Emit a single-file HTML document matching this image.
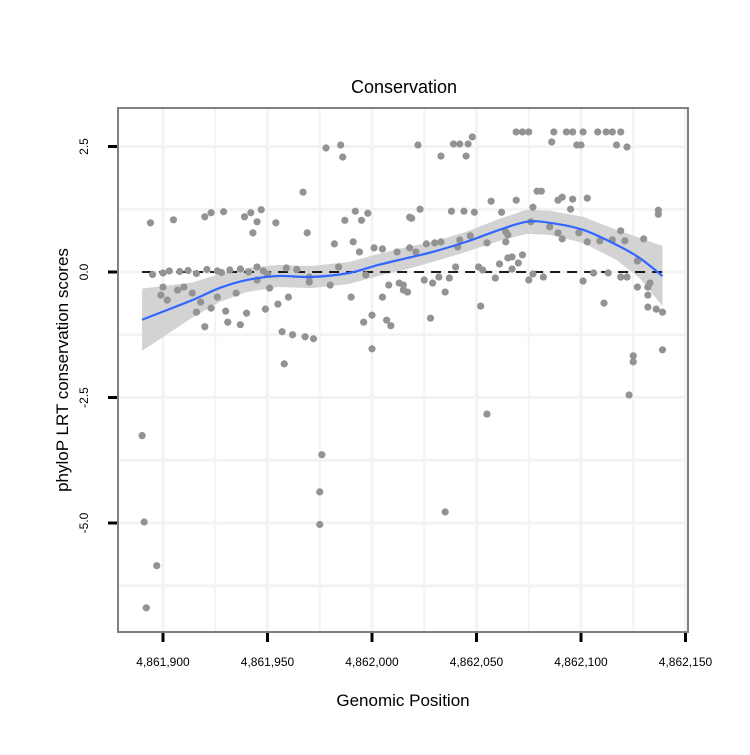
<!DOCTYPE html>
<html><head><meta charset="utf-8"><style>
body{margin:0;background:#fff;font-family:"Liberation Sans",sans-serif}
</style></head><body>
<svg id="chart" width="750" height="750" xmlns="http://www.w3.org/2000/svg" style="font-family:'Liberation Sans',sans-serif">
<text x="404" y="93" font-size="18" text-anchor="middle">Conservation</text>
<g id="grid"></g>
<g id="band"></g>
<line id="zero" stroke="#000" stroke-width="1.8" stroke-dasharray="10,7"/>
<g id="pts"></g>
<g id="fit"></g>
<rect x="118" y="108" width="570" height="524" fill="none" stroke="#808080" stroke-width="2"/>
<g id="axes"></g>
<text x="403" y="706" font-size="17" text-anchor="middle">Genomic Position</text>
<text transform="translate(68,370) rotate(-90)" font-size="17" text-anchor="middle">phyloP LRT conservation scores</text>
</svg>
<script>
const xTicks=[4861900,4861950,4862000,4862050,4862100,4862150];
const xTickLabels=["4,861,900","4,861,950","4,862,000","4,862,050","4,862,100","4,862,150"];
const yTicks=[2.5,0,-2.5,-5];
const yTickLabels=["2.5","0.0","-2.5","-5.0"];
const ptX=[4861894,4861905,4861920,4861923,4861929,4861939,4861942,4861947,4861945,4861943,4861954,4861967,4861978,4861985,4861986,4861992,4861998,4861987,4861995,4861969,4861982,4861991,4861994,4862001,4862005,4862012,4862018,
4861895,4861900,4861903,4861908,4861912,4861916,4861921,4861926,4861928,4861932,4861937,4861941,4861945,4861948,4861950,4861959,4861964,4861970,4861984,
4861900,4861899,4861902,4861907,4861910,4861914,4861918,4861916,4861920,4861923,4861926,4861930,4861931,4861935,4861937,4861940,4861945,4861949,4861951,4861955,4861960,4861957,4861962,4861968,4861972,4861958,4861970,4861980,4861990,4861996,4862000,4862000,4862007,4862009,4862008,4862013,4862015,4862005,4861997,
4861890,4861891,4861897,4861892,4861976,4861975,4861975,4862035,4862055,4862123,4862125,4862125,4862139,
4862069,4862072,4862075,4862087,4862093,4862096,4862101,4862108,4862112,4862115,4862119,4862086,4862098,4862100,4862117,4862122,4862022,4862039,4862042,4862046,4862048,4862033,4862045,
4862079,4862081,4862089,4862091,4862096,4862103,4862069,4862057,4862077,4862095,4862137,4862137,4862019,4862023,4862038,4862044,4862049,4862062,4862076,4862085,4862089,4862091,4862099,4862103,4862109,4862115,4862119,4862121,4862130,4862127,4862064,4862065,4862064,4862055,4862047,4862042,4862041,4862033,4862030,4862026,4862018,4862021,4862067,4862072,4862070,4862065,4862061,4862067,4862040,4862051,4862053,4862077,4862075,4862082,4862106,4862113,4862119,4862122,4862101,4862059,4862037,4862032,4862025,4862029,4862015,4862017,4862035,4862127,4862132,4862133,4862132,4862111,4862052,4862028,4862132,4862139,4862136];
const ptY=[0.98,1.04,1.10,1.18,1.20,1.10,1.18,1.24,1.00,0.78,0.98,1.59,2.47,2.53,2.29,1.21,1.17,1.03,1.03,0.78,0.56,0.60,0.40,0.48,0.46,0.40,1.09,
-0.05,-0.02,0.02,0.01,0.03,-0.03,0.05,0.02,-0.01,0.04,0.06,0.0,0.10,0.02,-0.04,0.08,0.05,-0.10,0.10,
-0.30,-0.46,-0.56,-0.36,-0.30,-0.42,-0.60,-0.80,-1.09,-0.72,-0.50,-0.78,-1.00,-0.42,-1.05,-0.82,-0.16,-0.74,-0.32,-0.64,-0.50,-1.19,-1.25,-1.29,-1.33,-1.83,-0.20,-0.26,-0.50,-1.00,-0.86,-1.53,-0.96,-1.07,-0.26,-0.22,-0.36,-0.50,-0.06,
-3.26,-4.98,-5.85,-6.69,-3.64,-4.38,-5.03,-4.78,-2.83,-2.45,-1.67,-1.79,-1.55,
2.79,2.79,2.79,2.79,2.79,2.79,2.79,2.79,2.79,2.79,2.79,2.59,2.53,2.53,2.53,2.49,2.53,2.55,2.55,2.55,2.69,2.31,2.31,
1.61,1.61,1.43,1.49,1.45,1.47,1.43,1.41,1.29,1.25,1.23,1.15,1.07,1.25,1.21,1.21,1.19,1.19,1.00,0.90,0.78,0.66,0.78,0.60,0.62,0.64,0.82,0.62,0.66,0.22,0.80,0.74,0.60,0.58,0.72,0.64,0.50,0.60,0.58,0.56,0.48,0.40,0.30,0.34,0.18,0.28,0.16,0.06,0.10,0.10,0.04,-0.04,-0.16,-0.10,-0.02,-0.02,-0.10,-0.10,-0.18,-0.12,-0.12,-0.10,-0.16,-0.22,-0.26,-0.40,-0.40,-0.30,-0.30,-0.22,-0.46,-0.62,-0.68,-0.92,-0.70,-0.80,-0.74];
const fitX=[4861890,4861914,4861927,4861940,4861955,4861971,4861989,4862003,4862017,4862029,4862045,4862061,4862074,4862085,4862101,4862117,4862128,4862139];
const fitY=[-0.95,-0.56,-0.32,-0.16,-0.08,-0.10,-0.02,0.14,0.28,0.40,0.60,0.84,1.00,0.98,0.84,0.54,0.28,-0.08];
const fitSE=[0.62,0.35,0.28,0.24,0.22,0.22,0.22,0.22,0.22,0.20,0.20,0.22,0.24,0.24,0.26,0.30,0.40,0.60];

const NS="http://www.w3.org/2000/svg";
const sx=v=>163+(v-4861900)*2.09;
const sy=v=>272-v*50.2;
function mk(tag,parent,attrs){const e=document.createElementNS(NS,tag);for(const k in attrs)e.setAttribute(k,attrs[k]);parent.appendChild(e);return e;}
const grid=document.getElementById('grid');
for(let v=4861875;v<=4862150;v+=25){const x=sx(v);if(x<119||x>687)continue;
 const l=mk('line',grid,{x1:x,x2:x,y1:109,y2:631,stroke:'#f3f3f3','stroke-width':v%50===0?3:2});
 
 }
for(let v=2.5;v>=-6.5;v-=1.25){const y=sy(v);if(y<109||y>631)continue;
 const l=mk('line',grid,{x1:119,x2:687,y1:y,y2:y,stroke:'#f3f3f3','stroke-width':3});
 
 }
// band
let up=[],dn=[];
fitX.forEach((x,i)=>{up.push(sx(x)+','+sy(fitY[i]+fitSE[i]));dn.unshift(sx(x)+','+sy(fitY[i]-fitSE[i]));});
const band=mk('polygon',document.getElementById('band'),{points:up.concat(dn).join(' '),fill:'#d3d3d3'});


const z=document.getElementById('zero');
z.setAttribute('x1',sx(4861890));z.setAttribute('x2',sx(4862139));z.setAttribute('y1',sy(0));z.setAttribute('y2',sy(0));
const pg=document.getElementById('pts');
ptX.forEach((x,i)=>{const c=mk('circle',pg,{cx:sx(x),cy:sy(ptY[i]),r:3.6,fill:'#939393'});
 
 });
// smooth line via catmull-rom
const P=fitX.map((x,i)=>[sx(x),sy(fitY[i])]);
let d='M'+P[0][0]+','+P[0][1];
for(let i=0;i<P.length-1;i++){const p0=P[Math.max(0,i-1)],p1=P[i],p2=P[i+1],p3=P[Math.min(P.length-1,i+2)];
 d+=' C'+(p1[0]+(p2[0]-p0[0])/6)+','+(p1[1]+(p2[1]-p0[1])/6)+' '+(p2[0]-(p3[0]-p1[0])/6)+','+(p2[1]-(p3[1]-p1[1])/6)+' '+p2[0]+','+p2[1];}
const fl=mk('path',document.getElementById('fit'),{d:d,fill:'none',stroke:'#3366ff','stroke-width':2.2});


const ax=document.getElementById('axes');
xTicks.forEach((v,i)=>{const x=sx(v);
 const t=mk('line',ax,{x1:x,x2:x,y1:633,y2:642,stroke:'#000','stroke-width':3});
 
 
 const tx=mk('text',ax,{x:x,y:666,'font-size':12,'text-anchor':'middle'});tx.textContent=xTickLabels[i];
 
 });
yTicks.forEach((v,i)=>{const y=sy(v);
 const t=mk('line',ax,{x1:108,x2:117,y1:y,y2:y,stroke:'#000','stroke-width':3});
 
 
 const tx=mk('text',ax,{transform:'translate(88,'+y+') rotate(-90)','font-size':12,'text-anchor':'middle'});tx.textContent=yTickLabels[i];
 
 });
</script>
</body></html>
